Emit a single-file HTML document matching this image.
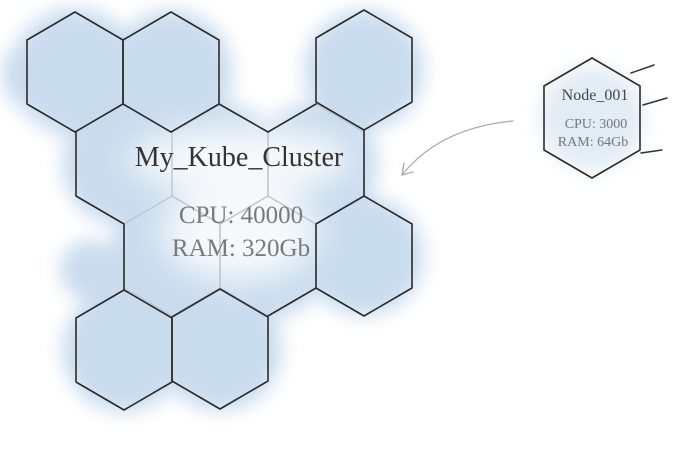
<!DOCTYPE html>
<html><head><meta charset="utf-8"><style>
html,body{margin:0;padding:0;background:#fff;}
svg{display:block;}
</style></head><body>
<svg width="686" height="452" viewBox="0 0 686 452" xmlns="http://www.w3.org/2000/svg">
<defs>
<filter id="b" x="-30%" y="-30%" width="160%" height="160%"><feGaussianBlur stdDeviation="9"/></filter>
<filter id="b2" x="-40%" y="-40%" width="180%" height="180%"><feGaussianBlur stdDeviation="16"/></filter>
</defs>
<g filter="url(#b)" fill="#c9dcee">
<circle cx="75" cy="72" r="64"/><circle cx="171" cy="72" r="62"/><circle cx="364" cy="70" r="60"/>
<circle cx="124" cy="164" r="62"/><circle cx="220" cy="164" r="62"/><circle cx="316" cy="164" r="62"/>
<circle cx="172" cy="256" r="62"/><circle cx="268" cy="256" r="62"/><circle cx="364" cy="256" r="60"/>
<circle cx="124" cy="350" r="62"/><circle cx="220" cy="349" r="62"/>
<circle cx="40" cy="75" r="38"/><circle cx="90" cy="270" r="30"/>
<circle cx="592" cy="118" r="52" fill="#e2ecf5"/>
</g>
<g filter="url(#b2)" fill="#f6f9fc">
<ellipse cx="240" cy="160" rx="112" ry="32"/>
<ellipse cx="240" cy="232" rx="78" ry="48"/>
</g>
<g fill="none" stroke="#b9c4cc" stroke-width="1.3" stroke-linejoin="round">
<polygon points="220,104 268,132 268,196 220,224 172,196 172,132"/>
<polygon points="316,104 364,132 364,196 316,224 268,196 268,132"/>
<polygon points="268,196 316,224 316,288 268,316 220,288 220,224"/>
<polygon points="172,196 220,224 220,288 172,316 124,288 124,224"/>
</g>
<g fill="none" stroke="#2b2b2b" stroke-width="1.6" stroke-linejoin="round" stroke-linecap="round">
<polygon points="75,12 123,40 123,104 75,132 27,104 27,40"/>
<polygon points="171,12 219,40 219,104 171,132 123,104 123,40"/>
<polygon points="364,10 412,38 412,102 364,130 316,102 316,38"/>
<polygon points="364,196 412,224 412,288 364,316 316,288 316,224"/>
<polygon points="124,290 172,318 172,382 124,410 76,382 76,318"/>
<polygon points="220,289 268,317 268,381 220,409 172,381 172,317"/>
<polyline points="76,132 76,196 124,224 124,290"/>
<polyline points="219,104 268,132"/>
<polyline points="316,104 268,132"/>
<polyline points="364,130 364,196"/>
<polyline points="316,288 268,316"/>
<polyline points="544,86 592,58 640,86 640,150 592,178 544,150 544,86"/>
</g>
<g font-family="'Liberation Serif', serif" text-anchor="middle">
<text x="239" y="166" font-size="28" fill="#333">My_Kube_Cluster</text>
<text x="241" y="223" font-size="25" fill="#7a7a7a">CPU: 40000</text>
<text x="241" y="256" font-size="25" fill="#7a7a7a">RAM: 320Gb</text>
<text x="595" y="100" font-size="16" fill="#444">Node_001</text>
<text x="596" y="128" font-size="14" fill="#777">CPU: 3000</text>
<text x="593" y="146" font-size="14" fill="#777">RAM: 64Gb</text>
</g>
<g fill="none" stroke="#aaa" stroke-width="1.3" stroke-linecap="round">
<path d="M513,121 C470,125 430,140 402,175"/>
<path d="M402,175 L404,163 M402,175 L413,172"/>
</g>
<g stroke="#333" stroke-width="1.5" stroke-linecap="round">
<line x1="631" y1="73" x2="654" y2="65"/>
<line x1="643" y1="105" x2="667" y2="98"/>
<line x1="641" y1="153" x2="662" y2="150"/>
</g>
</svg>
</body></html>
